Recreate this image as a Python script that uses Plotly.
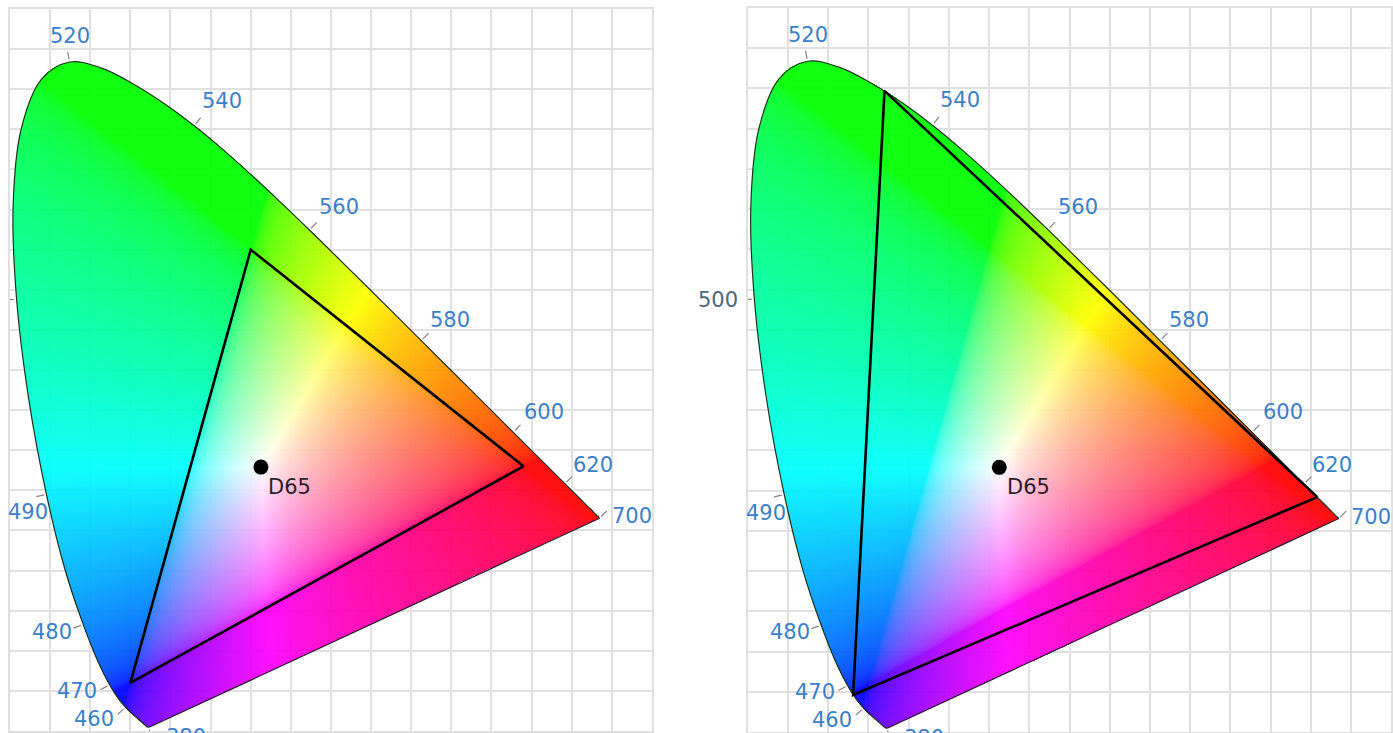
import base64
import struct
import zlib

import numpy as np
import plotly.graph_objects as go

# CIE 1931 2-degree spectral locus (chromaticity x, y), 5 nm steps
wavelengths = list(range(380, 701, 5))
locus_x = [0.1741, 0.1740, 0.1738, 0.1736, 0.1733, 0.1730, 0.1726, 0.1721, 0.1714, 0.1703,
           0.1689, 0.1669, 0.1644, 0.1611, 0.1566, 0.1510, 0.1440, 0.1355, 0.1241, 0.1096,
           0.0913, 0.0687, 0.0454, 0.0235, 0.0082, 0.0039, 0.0139, 0.0389, 0.0743, 0.1142,
           0.1547, 0.1929, 0.2296, 0.2658, 0.3016, 0.3373, 0.3731, 0.4087, 0.4441, 0.4788,
           0.5125, 0.5448, 0.5752, 0.6029, 0.6270, 0.6482, 0.6658, 0.6801, 0.6915, 0.7006,
           0.7079, 0.7140, 0.7190, 0.7230, 0.7260, 0.7283, 0.7300, 0.7311, 0.7320, 0.7327,
           0.7334, 0.7340, 0.7344, 0.7346, 0.7347]
locus_y = [0.0050, 0.0050, 0.0049, 0.0049, 0.0048, 0.0048, 0.0048, 0.0048, 0.0051, 0.0058,
           0.0069, 0.0086, 0.0109, 0.0138, 0.0177, 0.0227, 0.0297, 0.0399, 0.0578, 0.0868,
           0.1327, 0.2007, 0.2950, 0.4127, 0.5384, 0.6548, 0.7502, 0.8120, 0.8338, 0.8262,
           0.8059, 0.7816, 0.7543, 0.7243, 0.6923, 0.6589, 0.6245, 0.5896, 0.5547, 0.5202,
           0.4866, 0.4544, 0.4242, 0.3965, 0.3725, 0.3514, 0.3340, 0.3197, 0.3083, 0.2993,
           0.2920, 0.2859, 0.2809, 0.2770, 0.2740, 0.2717, 0.2700, 0.2689, 0.2680, 0.2673,
           0.2666, 0.2660, 0.2656, 0.2654, 0.2653]

# Wavelengths that get a tick and a label on the locus
labelled_nm = [380, 460, 470, 480, 490, 500, 520, 540, 560, 580, 600, 620, 700]

# Gamut primaries (R, G, B)
srgb_x = [0.640, 0.300, 0.150]
srgb_y = [0.330, 0.600, 0.060]
rec2020_x = [0.708, 0.170, 0.131]
rec2020_y = [0.292, 0.797, 0.046]

# White point
white_name = "D65"
white_x = 0.3127
white_y = 0.3290

# Label placement relative to the locus point, in pixels (right, down)
label_offsets = {
    380: (36, 10), 460: (-32, 12), 470: (-33, 6), 480: (-31, 7), 490: (-18, 18),
    500: (-36, 1), 520: (0, -26), 540: (28, -25), 560: (30, -23), 580: (29, -21),
    600: (31, -20), 620: (28, -19), 700: (32, -2),
}

LABEL_BLUE = "#3b80c9"
GRID = "#e0e0e0"


def smooth_outline(vx, vy, sub=12):
    """Catmull-Rom outline of the locus, used only to cut the colour fill."""
    p = np.column_stack([vx, vy])
    p = np.vstack([p[0], p, p[-1]])
    pts = []
    t = np.linspace(0, 1, sub, endpoint=False)[:, None]
    for k in range(1, len(p) - 2):
        p0, p1, p2, p3 = p[k - 1], p[k], p[k + 1], p[k + 2]
        seg = 0.5 * ((2 * p1) + (-p0 + p2) * t + (2 * p0 - 5 * p1 + 4 * p2 - p3) * t ** 2
                     + (-p0 + 3 * p1 - 3 * p2 + p3) * t ** 3)
        pts.append(seg)
    pts.append(p[-2][None, :])
    pts = np.vstack(pts)
    return pts[:, 0], pts[:, 1]


def inside_polygon(px, py, vx, vy):
    """Even-odd ray casting test, vectorised over the points."""
    inside = np.zeros(px.shape, dtype=bool)
    n = len(vx)
    j = n - 1
    for i in range(n):
        xi, yi, xj, yj = vx[i], vy[i], vx[j], vy[j]
        if yi != yj:
            cond = (yi > py) != (yj > py)
            xcross = (xj - xi) * (py - yi) / (yj - yi) + xi
            inside ^= cond & (px < xcross)
        j = i
    return inside


def chromaticity_png(step, x_max, y_max):
    xs = np.arange(0.0, x_max, step) + step / 2
    ys = np.arange(0.0, y_max, step) + step / 2
    gx, gy = np.meshgrid(xs, ys)
    ox, oy = smooth_outline(locus_x, locus_y)
    mask = inside_polygon(gx, gy, ox, oy)

    big_x = gx / gy
    big_z = (1.0 - gx - gy) / gy
    m = np.array([[3.2406, -1.5372, -0.4986],
                  [-0.9689, 1.8758, 0.0415],
                  [0.0557, -0.2040, 1.0570]])
    r = m[0, 0] * big_x + m[0, 1] + m[0, 2] * big_z
    g = m[1, 0] * big_x + m[1, 1] + m[1, 2] * big_z
    b = m[2, 0] * big_x + m[2, 1] + m[2, 2] * big_z
    rgb = np.clip(np.stack([r, g, b], axis=-1), 0, None)
    rgb = rgb / np.maximum(rgb.max(axis=-1, keepdims=True), 1e-9)
    rgb = np.where(rgb <= 0.0031308, 12.92 * rgb, 1.055 * np.power(rgb, 1 / 2.4) - 0.055)
    rgb8 = np.clip(np.round(rgb * 255), 0, 255).astype(np.uint8)
    alpha = np.where(mask, 238, 0).astype(np.uint8)
    rgba = np.concatenate([rgb8, alpha[..., None]], axis=-1)

    h, w = rgba.shape[:2]
    raw = b"".join(b"\x00" + rgba[k].tobytes() for k in range(h))

    def chunk(tag, data):
        return (struct.pack(">I", len(data)) + tag + data
                + struct.pack(">I", zlib.crc32(tag + data) & 0xFFFFFFFF))

    png = (b"\x89PNG\r\n\x1a\n"
           + chunk(b"IHDR", struct.pack(">IIBBBBB", w, h, 8, 6, 0, 0, 0))
           + chunk(b"IDAT", zlib.compress(raw, 9))
           + chunk(b"IEND", b""))
    return "data:image/png;base64," + base64.b64encode(png).decode("ascii")


def locus_normals():
    lx, ly = np.array(locus_x), np.array(locus_y)
    n = len(lx)
    out = {}
    for nm in labelled_nm:
        i = wavelengths.index(nm)
        a, b = max(i - 1, 0), min(i + 1, n - 1)
        tx, ty = lx[b] - lx[a], ly[b] - ly[a]
        norm = np.hypot(tx, ty)
        out[nm] = (lx[i], ly[i], -ty / norm, tx / norm)
    return out


STEP = 0.00125
X_MAX, Y_MAX = 0.8, 0.9
png_uri = chromaticity_png(STEP, X_MAX, Y_MAX)
normals = locus_normals()

fig = go.Figure()
panels = [("x", "y", srgb_x, srgb_y), ("x2", "y2", rec2020_x, rec2020_y)]

annotations = []
for idx, (xa, ya, gam_x, gam_y) in enumerate(panels):
    fig.add_trace(go.Image(source=png_uri, x0=STEP / 2, dx=STEP, y0=STEP / 2, dy=STEP,
                           xaxis=xa, yaxis=ya, hoverinfo="skip"))
    # spectral locus outline
    fig.add_trace(go.Scatter(x=locus_x, y=locus_y, mode="lines",
                             line=dict(color="#1c321c", width=1.2, shape="spline", smoothing=1.0),
                             xaxis=xa, yaxis=ya, hoverinfo="skip"))
    # line of purples
    fig.add_trace(go.Scatter(x=[locus_x[-1], locus_x[0]], y=[locus_y[-1], locus_y[0]],
                             mode="lines", line=dict(color="#2a1a2a", width=1.2),
                             xaxis=xa, yaxis=ya, hoverinfo="skip"))
    # wavelength ticks
    tx, ty = [], []
    for nm in labelled_nm:
        px, py, nx, ny = normals[nm]
        tx += [px + 0.003 * nx, px + 0.013 * nx, None]
        ty += [py + 0.003 * ny, py + 0.013 * ny, None]
    fig.add_trace(go.Scatter(x=tx, y=ty, mode="lines", line=dict(color="#8c8080", width=1.2),
                             xaxis=xa, yaxis=ya, hoverinfo="skip"))
    # gamut triangle
    fig.add_trace(go.Scatter(x=gam_x + [gam_x[0]], y=gam_y + [gam_y[0]], mode="lines",
                             line=dict(color="#000000", width=2.6),
                             xaxis=xa, yaxis=ya, hoverinfo="skip"))
    # white point
    fig.add_trace(go.Scatter(x=[white_x], y=[white_y], mode="markers",
                             marker=dict(color="#000000", size=15),
                             xaxis=xa, yaxis=ya, hoverinfo="skip"))
    annotations.append(dict(x=white_x, y=white_y, xref=xa, yref=ya, text=white_name,
                            showarrow=False, xshift=29, yshift=-20,
                            font=dict(family="DejaVu Sans", size=21, color="#2a1c2a")))
    for nm in labelled_nm:
        # the 500 nm label of the left panel falls outside the page
        if nm == 500 and idx == 0:
            continue
        px, py, _, _ = normals[nm]
        dxp, dyp = label_offsets[nm]
        annotations.append(dict(x=px, y=py, xref=xa, yref=ya, text=str(nm),
                                showarrow=False, xshift=dxp, yshift=-dyp,
                                xanchor="center", yanchor="middle",
                                font=dict(family="DejaVu Sans", size=21,
                                          color="#4f6580" if nm == 500 else LABEL_BLUE)))

axis_common = dict(range=[0, X_MAX], dtick=0.05, tick0=0, showticklabels=False, ticks="",
                   showgrid=True, gridcolor=GRID, gridwidth=1.5, zeroline=False,
                   showline=True, mirror=True, linecolor=GRID, linewidth=1.5,
                   autorange=False, fixedrange=True)
yaxis_common = dict(axis_common, range=[0, Y_MAX])

fig.update_layout(
    width=1393, height=733,
    margin=dict(l=10, r=1, t=8, b=1),
    paper_bgcolor="white", plot_bgcolor="white",
    showlegend=False, hovermode=False,
    xaxis=dict(axis_common, domain=[0.0, 0.4645], anchor="y"),
    yaxis=dict(yaxis_common, domain=[0.0, 1.0], anchor="x"),
    xaxis2=dict(axis_common, domain=[0.5333, 1.0], anchor="y2"),
    yaxis2=dict(yaxis_common, domain=[0.0, 1.0], anchor="x2"),
    annotations=annotations,
)

fig.write_html("out.html")
